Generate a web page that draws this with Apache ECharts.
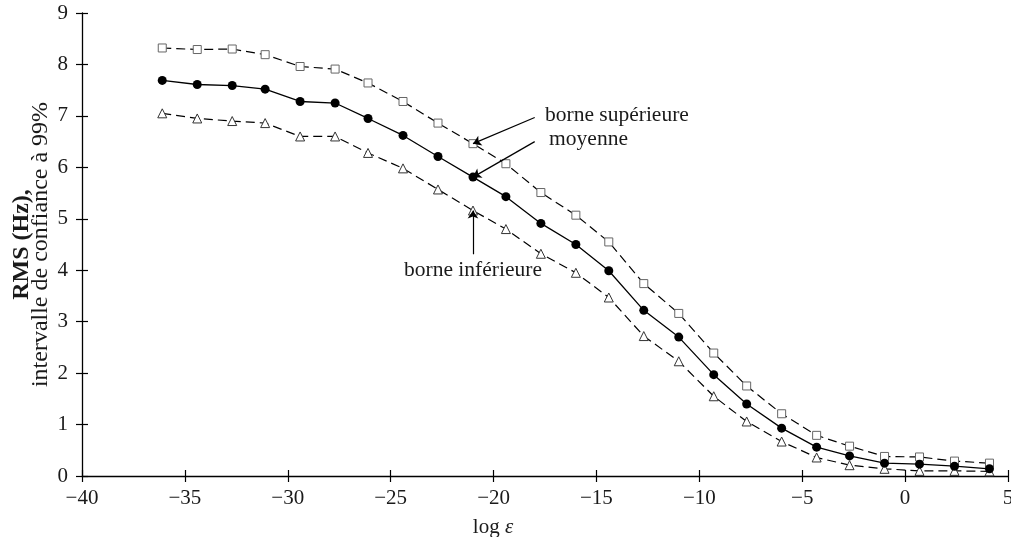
<!DOCTYPE html>
<html><head><meta charset="utf-8">
<script src="https://cdn.jsdelivr.net/npm/echarts@6/dist/echarts.min.js"></script>
<style>html,body{margin:0;padding:0;background:#fff}#c{width:1011px;height:537px}</style>
</head><body><div id="c"></div>
<script>
// ---- data ----
const logEps = [-36.1,-34.4,-32.7,-31.1,-29.4,-27.7,-26.1,-24.4,-22.7,-21.0,-19.4,-17.7,-16.0,-14.4,-12.7,-11.0,-9.3,-7.7,-6.0,-4.3,-2.7,-1.0,0.7,2.4,4.1];
const upper  = [8.32,8.29,8.30,8.19,7.96,7.91,7.64,7.28,6.86,6.46,6.07,5.51,5.07,4.55,3.74,3.16,2.39,1.75,1.21,0.79,0.58,0.38,0.37,0.29,0.25];
const mean   = [7.69,7.61,7.59,7.52,7.28,7.25,6.95,6.62,6.21,5.81,5.43,4.91,4.50,3.99,3.22,2.70,1.97,1.40,0.93,0.56,0.39,0.25,0.23,0.19,0.14];
const lower  = [7.05,6.95,6.90,6.86,6.60,6.60,6.28,5.98,5.57,5.16,4.80,4.32,3.95,3.47,2.72,2.23,1.55,1.06,0.67,0.36,0.21,0.14,0.10,0.10,0.09];
const xTickLabels = ['\u221240','\u221235','\u221230','\u221225','\u221220','\u221215','\u221210','\u22125','0','5'];
const yTickLabels = ['0','1','2','3','4','5','6','7','8','9'];
const labelUpper = 'borne supérieure';
const labelMean = 'moyenne';
const labelLower = 'borne inférieure';
const yTitle1 = 'RMS (Hz),';
const yTitle2 = 'intervalle de confiance à 99%';

const FONT = 'Liberation Serif';
const TXT = '#1a1a1a';
const pts = a => a.map((v, i) => [logEps[i], v]);
const pick = 9;

function arrow(tail, arr) {
  return {
    silent: true, animation: false,
    symbol: ['none', 'arrow'], symbolSize: 8,
    lineStyle: {color: '#000', width: 1.2, type: 'solid'},
    label: {show: false},
    data: [[{coord: tail}, {coord: [logEps[pick], arr[pick]]}]]
  };
}
function note(pos, text, align) {
  return {
    silent: true, animation: false,
    symbol: 'circle', symbolSize: 0,
    label: {show: true, position: 'inside', align: align, verticalAlign: 'middle',
            formatter: text, fontFamily: FONT, fontSize: 21.5, color: TXT},
    data: [{coord: pos}]
  };
}

const chart = echarts.init(document.getElementById('c'), null, {renderer: 'canvas'});
const xLabel = v => xTickLabels[Math.round((v + 40) / 5)];
const yLabel = v => yTickLabels[Math.round(v)];
chart.setOption({
  animation: false,
  backgroundColor: '#fff',
  grid: {left: 82, right: 3, top: 13, bottom: 61, containLabel: false, outerBoundsMode: 'none'},
  xAxis: [{
    type: 'value', min: -40, max: 5, interval: 5,
    axisLine: {show: true, onZero: false, lineStyle: {color: '#000', width: 1.3}},
    axisTick: {show: true, inside: false, length: 6, lineStyle: {color: '#000', width: 1.2}},
    axisLabel: {formatter: xLabel, fontFamily: FONT, fontSize: 21, color: TXT, margin: 12},
    splitLine: {show: false},
    name: '{n|log }{i|ε}', nameLocation: 'middle', nameGap: 41, nameMoveOverlap: false,
    nameTextStyle: {padding: [0, 104, 0, 0], rich: {
      n: {fontFamily: FONT, fontSize: 21, color: TXT},
      i: {fontFamily: FONT, fontSize: 21, fontStyle: 'italic', color: TXT}}}
  }, {
    type: 'value', min: -40, max: 5, interval: 5, position: 'bottom',
    axisLine: {show: false, onZero: false}, axisLabel: {show: false}, splitLine: {show: false},
    axisTick: {show: true, inside: true, length: 6, lineStyle: {color: '#000', width: 1.2}}
  }],
  yAxis: [{
    type: 'value', min: 0, max: 9, interval: 1,
    axisLine: {show: true, onZero: false, lineStyle: {color: '#000', width: 1.3}},
    axisTick: {show: true, inside: false, length: 6, lineStyle: {color: '#000', width: 1.2}},
    axisLabel: {formatter: yLabel, fontFamily: FONT, fontSize: 21, color: TXT, margin: 14},
    splitLine: {show: false},
    name: '{b|' + yTitle1 + '}\n{n|' + yTitle2 + '}',
    nameLocation: 'middle', nameRotate: 90, nameGap: 32, nameMoveOverlap: false,
    nameTextStyle: {align: 'center', rich: {
      b: {fontFamily: FONT, fontSize: 24, fontWeight: 'bold', color: TXT, lineHeight: 19, align: 'center'},
      n: {fontFamily: FONT, fontSize: 24, color: TXT, lineHeight: 19, align: 'center'}}}
  }, {
    type: 'value', min: 0, max: 9, interval: 1, position: 'left',
    axisLine: {show: false, onZero: false}, axisLabel: {show: false}, splitLine: {show: false},
    axisTick: {show: true, inside: true, length: 6, lineStyle: {color: '#000', width: 1.2}}
  }],
  series: [{
    name: 'borne supérieure', type: 'line', data: pts(upper),
    symbol: 'rect', symbolSize: 8, showAllSymbol: true,
    lineStyle: {color: '#000', width: 1.2, type: [9, 5]},
    itemStyle: {color: '#fff', borderColor: '#666', borderWidth: 1},
    markLine: arrow([-18.0, 6.97], upper),
    markPoint: note([-17.5, 7.01], labelUpper, 'left'),
    z: 3
  }, {
    name: 'moyenne', type: 'line', data: pts(mean),
    symbol: 'circle', symbolSize: 9, showAllSymbol: true,
    lineStyle: {color: '#000', width: 1.3, type: 'solid'},
    itemStyle: {color: '#000', borderColor: '#000', borderWidth: 0},
    markLine: arrow([-18.0, 6.50], mean),
    markPoint: note([-17.3, 6.55], labelMean, 'left'),
    z: 4
  }, {
    name: 'borne inférieure', type: 'line', data: pts(lower),
    symbol: 'triangle', symbolSize: 9, showAllSymbol: true,
    lineStyle: {color: '#000', width: 1.2, type: [9, 5]},
    itemStyle: {color: '#fff', borderColor: '#333', borderWidth: 1},
    markLine: arrow([-21.0, 4.31], lower),
    markPoint: note([-21.0, 3.99], labelLower, 'center'),
    z: 3
  }]
});
</script></body></html>
